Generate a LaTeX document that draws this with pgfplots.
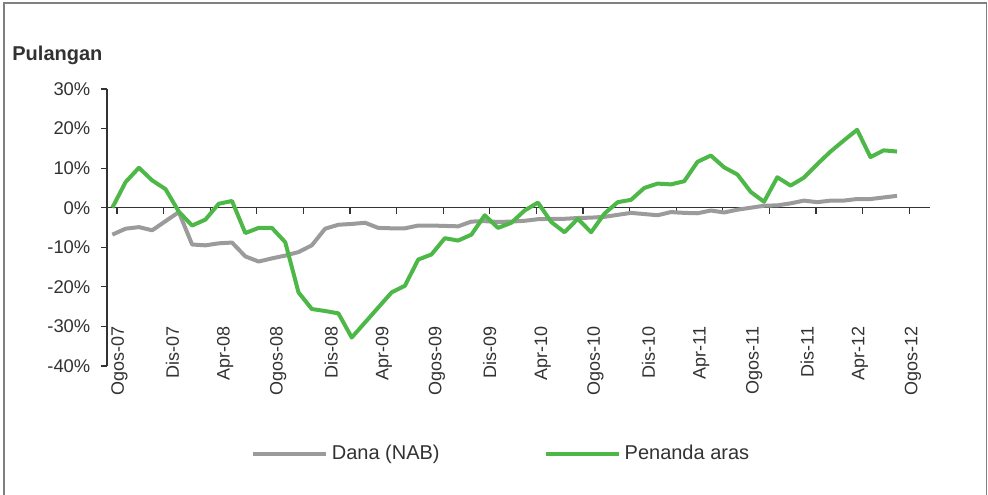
\documentclass[border=0pt]{standalone}
\usepackage{fontspec}
\setmainfont{Liberation Sans}
\usepackage{pgfplots}
\pgfplotsset{compat=1.18}
\definecolor{fund}{RGB}{155,155,155}
\definecolor{bench}{RGB}{77,184,72}
\definecolor{txt}{RGB}{50,50,50}
\begin{document}
\begin{tikzpicture}
\useasboundingbox (0,0) rectangle (494pt,247pt);
\draw[black!50, line width=0.75pt] (2pt,-1pt) -- (2pt,245.5pt) -- (493.2pt,245.5pt) -- (493.2pt,-1pt);
\node[anchor=base west, font=\bfseries\fontsize{10}{12}\selectfont, text=txt, inner sep=0pt] at (6pt,217pt) {Pulangan};
\begin{axis}[
  at={(53.5pt,64pt)}, anchor=south west,
  scale only axis, width=411.5pt, height=138.5pt,
  xmin=-0.40, xmax=61.48, ymin=-40, ymax=30,
  axis x line=middle, axis y line=left,
  axis line style={-, black!80, line width=0.6pt},
  tick align=outside,
  major tick length=3pt,
  tick style={black!80, line width=0.6pt},
  ytick={-40,-30,-20,-10,0,10,20,30},
  yticklabels={-40\%,-30\%,-20\%,-10\%,0\%,10\%,20\%,30\%},
  yticklabel style={font=\fontsize{9.2}{10}\selectfont, text=txt, xshift=-1.8pt},
  xtick={0.35,3.85,7.36,10.86,14.37,17.87,21.37,24.88,28.38,31.89,35.39,38.89,42.40,45.90,49.41,52.91,56.41,59.92},
  xticklabels={},
  extra x ticks={0.54,4.52,8.49,12.47,16.45,20.43,24.40,28.38,32.36,36.33,40.31,44.29,48.26,52.24,56.22,60.20},
  extra x tick labels={Ogos-07,Dis-07,Apr-08,Ogos-08,Dis-08,Apr-09,Ogos-09,Dis-09,Apr-10,Ogos-10,Dis-10,Apr-11,Ogos-11,Dis-11,Apr-12,Ogos-12},
  extra x tick style={major tick length=0pt},
  xticklabel style={font=\fontsize{9}{10}\selectfont, text=txt, yshift=-56pt, rotate=90, anchor=east},
  legend style={at={(0.480,-0.316)}, anchor=center, draw=none, fill=none, legend columns=2,
    font=\fontsize{10}{12}\selectfont, text=txt,
    /tikz/every even column/.append style={column sep=50pt}},
  legend image code/.code={\draw[#1, line width=2pt] (0pt,0pt) -- (36.5pt,0pt);},
  clip=false,
]
\addplot[fund, line width=2pt, line join=round] coordinates {
(0,-6.8)(1,-5.3)(2,-4.9)(3,-5.7)(4,-3.4)(5,-1.1)(6,-9.3)(7,-9.5)(8,-9.0)(9,-8.8)
(10,-12.3)(11,-13.6)(12,-12.8)(13,-12.1)(14,-11.2)(15,-9.5)(16,-5.3)(17,-4.3)(18,-4.1)(19,-3.8)
(20,-5.1)(21,-5.2)(22,-5.2)(23,-4.5)(24,-4.5)(25,-4.6)(26,-4.7)(27,-3.5)(28,-3.4)(29,-3.6)
(30,-3.5)(31,-3.3)(32,-2.9)(33,-2.8)(34,-2.8)(35,-2.6)(36,-2.5)(37,-2.3)(38,-1.8)(39,-1.3)
(40,-1.6)(41,-1.9)(42,-1.1)(43,-1.3)(44,-1.4)(45,-0.7)(46,-1.2)(47,-0.5)(48,0.0)(49,0.5)
(50,0.6)(51,1.1)(52,1.8)(53,1.4)(54,1.8)(55,1.8)(56,2.2)(57,2.2)(58,2.6)(59,3.0)
};
\addlegendentry{Dana (NAB)}
\addplot[bench, line width=2pt, line join=round] coordinates {
(0,0)(1,6.5)(2,10.1)(3,6.9)(4,4.7)(5,-1.0)(6,-4.5)(7,-3.0)(8,1.0)(9,1.7)
(10,-6.4)(11,-5.1)(12,-5.1)(13,-8.7)(14,-21.4)(15,-25.6)(16,-26.1)(17,-26.7)(18,-32.8)(19,-29.0)
(20,-25.2)(21,-21.4)(22,-19.7)(23,-13.1)(24,-11.8)(25,-7.7)(26,-8.3)(27,-6.8)(28,-1.9)(29,-5.1)
(30,-3.8)(31,-0.7)(32,1.3)(33,-3.6)(34,-6.2)(35,-2.8)(36,-6.2)(37,-1.5)(38,1.4)(39,2.0)
(40,5.0)(41,6.1)(42,5.9)(43,6.7)(44,11.6)(45,13.2)(46,10.2)(47,8.4)(48,4.0)(49,1.5)
(50,7.7)(51,5.6)(52,7.6)(53,11.0)(54,14.2)(55,17.0)(56,19.7)(57,12.8)(58,14.5)(59,14.2)
};
\addlegendentry{Penanda aras}
\end{axis}
\end{tikzpicture}
\end{document}
